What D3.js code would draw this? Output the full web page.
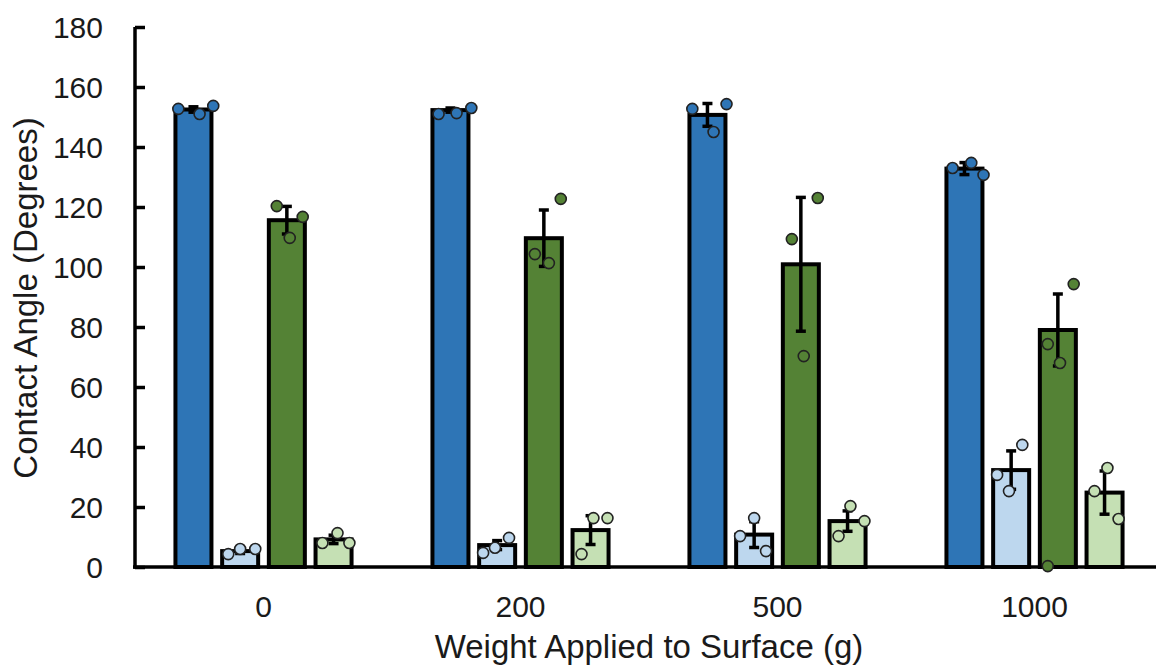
<!DOCTYPE html>
<html>
<head>
<meta charset="utf-8">
<script src="https://cdn.jsdelivr.net/npm/d3@7"></script>
<style>
  body { margin: 0; background: #fff; }
  text { font-family: "Liberation Sans", Arial, sans-serif; fill: #1a1a1a; }
</style>
</head>
<body>
<div id="chart"></div>
<script>
const categories = ["0", "200", "500", "1000"];
const seriesNames = ["blue", "lightBlue", "darkGreen", "lightGreen"];
const seriesColors = ["#2E75B6", "#BDD7EE", "#548235", "#C5E0B4"];
const yTicks = [0, 20, 40, 60, 80, 100, 120, 140, 160, 180];

// bar heights (means) per series, one value per weight
const blueMean = [152.5, 152.3, 150.7, 132.8];
const lightBlueMean = [5.3, 7.3, 10.8, 32.3];
const darkGreenMean = [115.6, 109.6, 100.9, 79.0];
const lightGreenMean = [9.2, 12.3, 15.3, 24.8];

// error bar half-lengths
const blueErr = [0.9, 0.7, 3.8, 2.0];
const lightBlueErr = [0.8, 1.5, 4.3, 6.4];
const darkGreenErr = [4.6, 9.4, 22.3, 12.0];
const lightGreenErr = [1.4, 4.8, 3.4, 7.2];

// individual measurements
const bluePts = [[152.7, 151.0, 153.7], [151.0, 151.3, 153.0], [152.7, 154.3, 145.0], [133.0, 134.7, 130.7]];
const lightBluePts = [[4.3, 6.0, 6.0], [4.7, 6.4, 9.7], [16.3, 10.3, 5.3], [40.7, 30.7, 25.3]];
const darkGreenPts = [[120.3, 116.7, 109.7], [122.7, 104.3, 101.3], [123.0, 109.3, 70.3], [94.3, 74.3, 68.0, 0.3]];
const lightGreenPts = [[11.3, 8.0, 8.0], [16.3, 16.3, 4.3], [20.3, 15.3, 10.3], [33.0, 25.3, 16.0]];

// horizontal spread of the dots, as a fraction of bar width
const dotJitter = [
  [[-0.42, 0.17, 0.55], [-0.33, 0.0, 0.42], [-0.28, 0.44, 0.08], [0.11, -0.31, 0.44]],
  [[-0.33, 0.17, 0.58], [-0.39, -0.06, 0.33], [0.47, -0.25, 0.14], [0.08, 0.47, -0.25]],
  [[-0.42, 0.53, 0.17], [0.0, -0.39, 0.33], [0.47, -0.25, 0.08], [0.08, 0.47, -0.25]],
  [[-0.33, 0.19, 0.53], [0.31, -0.39, -0.06], [0.44, -0.28, 0.06, -0.28], [0.08, -0.28, 0.39]]
];

const means = [blueMean, lightBlueMean, darkGreenMean, lightGreenMean];
const errs = [blueErr, lightBlueErr, darkGreenErr, lightGreenErr];
const pts = [bluePts, lightBluePts, darkGreenPts, lightGreenPts];

const W = 1156, H = 670;
const margin = {top: 27, right: 0, bottom: 103, left: 135};

const rows = [];
categories.forEach((c, ci) => seriesNames.forEach((s, si) => {
  rows.push({cat: c, ser: s, si, mean: means[si][ci], err: errs[si][ci],
    pts: pts[si][ci].map((v, k) => ({v, j: dotJitter[ci][si][k]}))});
}));

const svg = d3.select("#chart").append("svg")
  .attr("width", W).attr("height", H);

const x0 = d3.scaleBand().domain(categories).range([135, 1163]);
const x1 = d3.scaleBand().domain(seriesNames).range([0, x0.bandwidth()])
  .paddingInner(0.229).paddingOuter(0.866);
const y = d3.scaleLinear().domain([0, 180]).range([H - margin.bottom, margin.top]);
const color = d3.scaleOrdinal().domain(seriesNames).range(seriesColors);

const cx = d => x0(d.cat) + x1(d.ser) + x1.bandwidth() / 2;

// bars
svg.append("g").selectAll("rect").data(rows).join("rect")
  .attr("x", d => x0(d.cat) + x1(d.ser))
  .attr("y", d => y(d.mean))
  .attr("width", x1.bandwidth())
  .attr("height", d => y(0) - y(d.mean))
  .attr("fill", d => color(d.ser))
  .attr("stroke", "#000")
  .attr("stroke-width", 4);

// error bars
const eb = svg.append("g").attr("stroke", "#000").attr("stroke-width", 3.5);
rows.forEach(d => {
  const xc = cx(d);
  eb.append("line").attr("x1", xc).attr("x2", xc)
    .attr("y1", y(d.mean - d.err)).attr("y2", y(d.mean + d.err));
  [d.mean - d.err, d.mean + d.err].forEach(v => {
    eb.append("line").attr("x1", xc - 5).attr("x2", xc + 5)
      .attr("y1", y(v)).attr("y2", y(v));
  });
});

// x axis line
svg.append("line")
  .attr("x1", margin.left - 2).attr("x2", W)
  .attr("y1", y(0)).attr("y2", y(0))
  .attr("stroke", "#000").attr("stroke-width", 3.5);

// dots
svg.append("g").selectAll("g").data(rows).join("g")
  .each(function (d) {
    d3.select(this).selectAll("circle").data(d.pts).join("circle")
      .attr("cx", p => cx(d) + p.j * x1.bandwidth())
      .attr("cy", p => y(p.v))
      .attr("r", 5.5)
      .attr("fill", color(d.ser))
      .attr("stroke", "#222")
      .attr("stroke-width", 1.6);
  });

// y axis
const yAxis = svg.append("g")
  .attr("transform", `translate(${margin.left},0)`)
  .call(d3.axisRight(y).tickValues(yTicks).tickSize(10).tickSizeOuter(0));
yAxis.select(".domain").attr("stroke-width", 3.5).attr("d", `M0,${y(180)}V${y(0) + 1.75}`);
yAxis.selectAll(".tick line").attr("stroke-width", 3.5);
yAxis.selectAll(".tick text")
  .attr("x", -32).attr("text-anchor", "end")
  .attr("font-size", 30).attr("dy", "0.35em")
  .attr("font-family", "Liberation Sans, Arial, sans-serif")
  .attr("fill", "#1a1a1a");

// category labels
svg.append("g").selectAll("text").data(categories).join("text")
  .attr("x", d => x0(d) + x0.bandwidth() / 2)
  .attr("y", 617)
  .attr("text-anchor", "middle")
  .attr("font-size", 30)
  .text(d => d);

// axis titles
svg.append("text")
  .attr("x", 649).attr("y", 658)
  .attr("text-anchor", "middle")
  .attr("font-size", 33)
  .text("Weight Applied to Surface (g)");

svg.append("text")
  .attr("transform", "translate(25,298) rotate(-90)")
  .attr("dy", "0.35em")
  .attr("text-anchor", "middle")
  .attr("font-size", 33)
  .text("Contact Angle (Degrees)");
</script>
</body>
</html>
